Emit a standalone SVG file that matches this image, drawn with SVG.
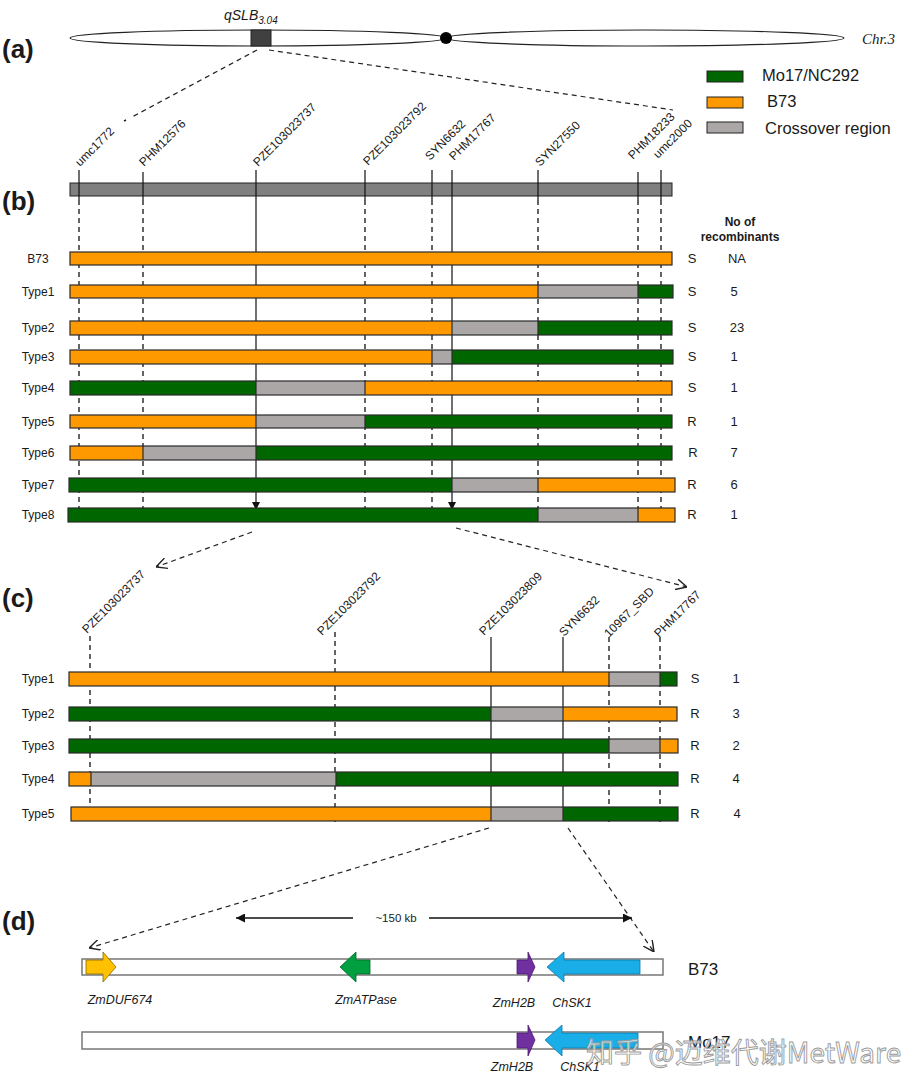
<svg xmlns="http://www.w3.org/2000/svg" width="910" height="1090" viewBox="0 0 910 1090">
<defs>
<style>
text{font-family:"Liberation Sans",Arial,sans-serif;fill:#1a1a1a}
.pl{font-size:26px;font-weight:bold}
.mk{font-size:12px}
.rl{font-size:12px;text-anchor:middle}
.sr{font-size:13px;text-anchor:middle}
.lg{font-size:16.5px}
.gn{font-size:12.5px;font-style:italic;text-anchor:middle}
.o{fill:#FF9900}
.g{fill:#006600}
.x{fill:#ABA7A7}
.ol{fill:none;stroke:#2a2a2a;stroke-width:1.2}
.sep{stroke:#2a2a2a;stroke-width:1.2}
.dl{stroke:#111;stroke-width:1.3;stroke-dasharray:5,4;fill:none}
.sl{stroke:#111;stroke-width:1.2;fill:none}
.da{stroke:#222;stroke-width:1.2;stroke-dasharray:5,4;fill:none}
</style>
<marker id="tri" viewBox="0 0 10 10" refX="10" refY="5" markerWidth="8" markerHeight="8" markerUnits="userSpaceOnUse" orient="auto"><path d="M0,0 L10,5 L0,10 z" fill="#111"/></marker>
<marker id="chev" viewBox="0 0 10 10" refX="10" refY="5" markerWidth="11" markerHeight="11" markerUnits="userSpaceOnUse" orient="auto"><path d="M0,0 L10,5 L0,10" fill="none" stroke="#222" stroke-width="1.3"/></marker>
<marker id="fa" viewBox="0 0 10 10" refX="10" refY="5" markerWidth="10" markerHeight="9" markerUnits="userSpaceOnUse" orient="auto"><path d="M0,0 L10,5 L0,10 z" fill="#111"/></marker>
</defs>
<rect width="910" height="1090" fill="#fff"/>

<!-- panel labels -->
<text class="pl" x="2" y="58">(a)</text>
<text class="pl" x="2" y="210">(b)</text>
<text class="pl" x="2" y="607">(c)</text>
<text class="pl" x="2" y="930">(d)</text>

<!-- (a) chromosome -->
<g id="chromosome">
<ellipse cx="258" cy="38" rx="188" ry="8" fill="#fff" stroke="#222" stroke-width="1.2"/>
<ellipse cx="645" cy="38" rx="199" ry="8" fill="#fff" stroke="#222" stroke-width="1.2"/>
<circle cx="446" cy="38" r="6" fill="#000"/>
<rect x="251" y="30" width="20" height="16" fill="#404040" stroke="#222" stroke-width="1"/>
<text x="224" y="20" style="font-size:14px;font-style:italic">qSLB<tspan dy="4" style="font-size:10px">3.04</tspan></text>
<text x="862" y="44" style="font-family:'Liberation Serif','Times New Roman',serif;font-size:15px;font-style:italic">Chr.3</text>
</g>

<!-- legend -->
<g id="legend">
<rect x="707" y="71" width="36" height="11" fill="#006600" stroke="#222" stroke-width="1"/>
<rect x="707" y="97" width="36" height="11" fill="#FF9900" stroke="#222" stroke-width="1"/>
<rect x="707" y="122" width="36" height="11" fill="#ABA7A7" stroke="#222" stroke-width="1"/>
<text class="lg" x="762" y="81">Mo17/NC292</text>
<text class="lg" x="767" y="107">B73</text>
<text class="lg" x="765" y="134">Crossover region</text>
</g>

<!-- (b) marker bar and labels -->
<g id="markers-b">
<rect x="70" y="183" width="602" height="13" fill="#808080" stroke="#222" stroke-width="1"/>
<text class="mk" transform="translate(80,167) rotate(-45)">umc1772</text>
<text class="mk" transform="translate(144,167) rotate(-45)">PHM12576</text>
<text class="mk" transform="translate(258,167) rotate(-45)">PZE103023737</text>
<text class="mk" transform="translate(368,166) rotate(-45)">PZE103023792</text>
<text class="mk" transform="translate(430,161) rotate(-45)">SYN6632</text>
<text class="mk" transform="translate(454,161) rotate(-45)">PHM17767</text>
<text class="mk" transform="translate(540,167) rotate(-45)">SYN27550</text>
<text class="mk" transform="translate(633,160) rotate(-45)">PHM18233</text>
<text class="mk" transform="translate(658,159) rotate(-45)">umc2000</text>
<text x="740" y="226" style="font-size:12px;font-weight:bold;text-anchor:middle">No of</text>
<text x="740" y="241" style="font-size:12px;font-weight:bold;text-anchor:middle">recombinants</text>
</g>

<!-- connectors -->
<g id="connectors">
<!-- (a) to (b) -->
<path class="da" d="M257,50 L132,117"/>
<path d="M124,121 L126,120" stroke="#222" stroke-width="1.5"/>
<path class="da" d="M269,50 L673,110"/>
<!-- (b) top ticks -->
<g class="sl">
<path d="M79,170 V200 M143,172 V200 M365,170 V200 M432,170 V200 M538,170 V200 M638,172 V200 M661,170 V200"/>
<path d="M256,170 V510" marker-end="url(#tri)" />
<path d="M452,170 V510" marker-end="url(#tri)" />
</g>
<g class="dl">
<path d="M79,200 V522 M143,200 V522 M365,200 V522 M432,200 V522 M538,200 V522 M638,200 V522 M661,200 V522"/>
</g>
<!-- (b) to (c) -->
<path class="da" d="M252,532 L156,567" marker-end="url(#chev)"/>
<path class="da" d="M456,528 L687,587" marker-end="url(#chev)"/>
<!-- (c) ticks -->
<g class="dl">
<path d="M90,636 V822 M335,632 V822 M609,637 V822 M660,637 V822"/>
</g>
<g class="sl">
<path d="M491,637 V815" marker-end="url(#tri)"/>
<path d="M563,637 V815" marker-end="url(#tri)"/>
</g>
<!-- (c) to (d) -->
<path class="da" d="M489,828 L89,948" marker-end="url(#chev)"/>
<path class="da" d="M568,828 L654,952" marker-end="url(#chev)"/>
<!-- ~150 kb -->
<path d="M353,918 H236" stroke="#111" stroke-width="1.5" marker-end="url(#fa)"/>
<path d="M429,918 H632" stroke="#111" stroke-width="1.5" marker-end="url(#fa)"/>
<text x="396" y="922" style="font-size:11.5px;text-anchor:middle">~150 kb</text>
</g>

<!-- (b) rows -->
<g id="b-B73">
<rect class="o" x="70" y="252" width="602" height="13"/>
<rect class="ol" x="70" y="252" width="602" height="13"/>
<text class="rl" x="38" y="263">B73</text><text class="sr" x="692" y="263">S</text><text class="sr" x="737" y="263">NA</text>
</g>
<g id="b-Type1">
<rect class="o" x="70" y="285" width="468" height="13"/><rect class="x" x="538" y="285" width="100" height="13"/><rect class="g" x="638" y="285" width="35" height="13"/>
<path class="sep" d="M538,285 V298 M638,285 V298"/>
<rect class="ol" x="70" y="285" width="603" height="13"/>
<text class="rl" x="38" y="296">Type1</text><text class="sr" x="692" y="296">S</text><text class="sr" x="734" y="296">5</text>
</g>
<g id="b-Type2">
<rect class="o" x="70" y="321" width="382" height="14"/><rect class="x" x="452" y="321" width="86" height="14"/><rect class="g" x="538" y="321" width="134" height="14"/>
<path class="sep" d="M452,321 V335 M538,321 V335"/>
<rect class="ol" x="70" y="321" width="602" height="14"/>
<text class="rl" x="38" y="332">Type2</text><text class="sr" x="692" y="332">S</text><text class="sr" x="737" y="332">23</text>
</g>
<g id="b-Type3">
<rect class="o" x="70" y="350" width="362" height="14"/><rect class="x" x="432" y="350" width="20" height="14"/><rect class="g" x="452" y="350" width="221" height="14"/>
<path class="sep" d="M432,350 V364 M452,350 V364"/>
<rect class="ol" x="70" y="350" width="603" height="14"/>
<text class="rl" x="38" y="361">Type3</text><text class="sr" x="692" y="361">S</text><text class="sr" x="734" y="361">1</text>
</g>
<g id="b-Type4">
<rect class="g" x="70" y="381" width="186" height="14"/><rect class="x" x="256" y="381" width="109" height="14"/><rect class="o" x="365" y="381" width="307" height="14"/>
<path class="sep" d="M256,381 V395 M365,381 V395"/>
<rect class="ol" x="70" y="381" width="602" height="14"/>
<text class="rl" x="38" y="392">Type4</text><text class="sr" x="692" y="392">S</text><text class="sr" x="734" y="392">1</text>
</g>
<g id="b-Type5">
<rect class="o" x="70" y="415" width="186" height="13"/><rect class="x" x="256" y="415" width="109" height="13"/><rect class="g" x="365" y="415" width="307" height="13"/>
<path class="sep" d="M256,415 V428 M365,415 V428"/>
<rect class="ol" x="70" y="415" width="602" height="13"/>
<text class="rl" x="38" y="426">Type5</text><text class="sr" x="692" y="426">R</text><text class="sr" x="734" y="426">1</text>
</g>
<g id="b-Type6">
<rect class="o" x="70" y="446" width="73" height="14"/><rect class="x" x="143" y="446" width="113" height="14"/><rect class="g" x="256" y="446" width="416" height="14"/>
<path class="sep" d="M143,446 V460 M256,446 V460"/>
<rect class="ol" x="70" y="446" width="602" height="14"/>
<text class="rl" x="38" y="457">Type6</text><text class="sr" x="693" y="457">R</text><text class="sr" x="734" y="457">7</text>
</g>
<g id="b-Type7">
<rect class="g" x="69" y="478" width="383" height="14"/><rect class="x" x="452" y="478" width="86" height="14"/><rect class="o" x="538" y="478" width="137" height="14"/>
<path class="sep" d="M452,478 V492 M538,478 V492"/>
<rect class="ol" x="69" y="478" width="606" height="14"/>
<text class="rl" x="38" y="489">Type7</text><text class="sr" x="692" y="489">R</text><text class="sr" x="734" y="489">6</text>
</g>
<g id="b-Type8">
<rect class="g" x="68" y="508" width="470" height="14"/><rect class="x" x="538" y="508" width="100" height="14"/><rect class="o" x="638" y="508" width="37" height="14"/>
<path class="sep" d="M538,508 V522 M638,508 V522"/>
<rect class="ol" x="68" y="508" width="607" height="14"/>
<text class="rl" x="38" y="519">Type8</text><text class="sr" x="692" y="519">R</text><text class="sr" x="734" y="519">1</text>
</g>

<!-- (c) markers -->
<g id="markers-c">
<text class="mk" transform="translate(87,634) rotate(-45)">PZE103023737</text>
<text class="mk" transform="translate(322,636) rotate(-45)">PZE103023792</text>
<text class="mk" transform="translate(484,636) rotate(-45)">PZE103023809</text>
<text class="mk" transform="translate(564,637) rotate(-45)">SYN6632</text>
<text class="mk" transform="translate(609,638) rotate(-45)">10967_SBD</text>
<text class="mk" transform="translate(659,638) rotate(-45)">PHM17767</text>
</g>

<!-- (c) rows -->
<g id="c-Type1">
<rect class="o" x="69" y="672" width="540" height="14"/><rect class="x" x="609" y="672" width="51" height="14"/><rect class="g" x="660" y="672" width="17" height="14"/>
<path class="sep" d="M609,672 V686 M660,672 V686"/>
<rect class="ol" x="69" y="672" width="608" height="14"/>
<text class="rl" x="38" y="683">Type1</text><text class="sr" x="695" y="683">S</text><text class="sr" x="736" y="683">1</text>
</g>
<g id="c-Type2">
<rect class="g" x="69" y="707" width="422" height="14"/><rect class="x" x="491" y="707" width="72" height="14"/><rect class="o" x="563" y="707" width="114" height="14"/>
<path class="sep" d="M491,707 V721 M563,707 V721"/>
<rect class="ol" x="69" y="707" width="608" height="14"/>
<text class="rl" x="38" y="718">Type2</text><text class="sr" x="695" y="718">R</text><text class="sr" x="736" y="718">3</text>
</g>
<g id="c-Type3">
<rect class="g" x="69" y="739" width="540" height="14"/><rect class="x" x="609" y="739" width="51" height="14"/><rect class="o" x="660" y="739" width="18" height="14"/>
<path class="sep" d="M609,739 V753 M660,739 V753"/>
<rect class="ol" x="69" y="739" width="609" height="14"/>
<text class="rl" x="38" y="750">Type3</text><text class="sr" x="695" y="750">R</text><text class="sr" x="736" y="750">2</text>
</g>
<g id="c-Type4">
<rect class="o" x="69" y="772" width="22" height="14"/><rect class="x" x="91" y="772" width="245" height="14"/><rect class="g" x="336" y="772" width="342" height="14"/>
<path class="sep" d="M91,772 V786 M336,772 V786"/>
<rect class="ol" x="69" y="772" width="609" height="14"/>
<text class="rl" x="38" y="783">Type4</text><text class="sr" x="695" y="783">R</text><text class="sr" x="736" y="783">4</text>
</g>
<g id="c-Type5">
<rect class="o" x="71" y="807" width="420" height="14"/><rect class="x" x="491" y="807" width="72" height="14"/><rect class="g" x="563" y="807" width="115" height="14"/>
<path class="sep" d="M491,807 V821 M563,807 V821"/>
<rect class="ol" x="71" y="807" width="607" height="14"/>
<text class="rl" x="38" y="818">Type5</text><text class="sr" x="695" y="818">R</text><text class="sr" x="737" y="818">4</text>
</g>

<!-- (d) B73 region -->
<g id="d-B73">
<rect x="82" y="959" width="581" height="16" fill="#fff" stroke="#777" stroke-width="1.5"/>
<polygon points="86,960 103,960 103,952 116,967 103,982 103,974 86,974" fill="#FFC000" stroke="#8a6a00" stroke-width="0.8"/>
<polygon points="340,967 356,952 356,960 370,960 370,974 356,974 356,982" fill="#00A040" stroke="#00662a" stroke-width="0.8"/>
<polygon points="517,960 528,960 528,952 535,967 528,982 528,974 517,974" fill="#7030A0" stroke="#4a1a70" stroke-width="0.8"/>
<polygon points="547,967 564,952 564,960 640,960 640,974 564,974 564,982" fill="#1AAEE8" stroke="#0a7aa8" stroke-width="0.8"/>
<text class="gn" x="120" y="1004">ZmDUF674</text>
<text class="gn" x="366" y="1004">ZmATPase</text>
<text class="gn" x="514" y="1007">ZmH2B</text>
<text class="gn" x="572" y="1007">ChSK1</text>
<text x="688" y="975" style="font-size:17px">B73</text>
</g>
<g id="d-Mo17">
<rect x="82" y="1032" width="581" height="17" fill="#fff" stroke="#777" stroke-width="1.5"/>
<polygon points="517,1033 528,1033 528,1025 535,1040 528,1056 528,1048 517,1048" fill="#7030A0" stroke="#4a1a70" stroke-width="0.8"/>
<polygon points="545,1040 562,1025 562,1033 638,1033 638,1048 562,1048 562,1056" fill="#1AAEE8" stroke="#0a7aa8" stroke-width="0.8"/>
<text class="gn" x="512" y="1071">ZmH2B</text>
<text class="gn" x="580" y="1071">ChSK1</text>
<text x="688" y="1048" style="font-size:17px">Mo17</text>
</g>

<!-- watermark -->
<text x="586" y="1063" style="font-family:'Noto Sans CJK SC','Noto Sans',sans-serif;font-size:28px;fill:#fff;fill-opacity:0.7;stroke:#9a9a9a;stroke-width:0.9">知乎 @迈维代谢MetWare</text>
</svg>
